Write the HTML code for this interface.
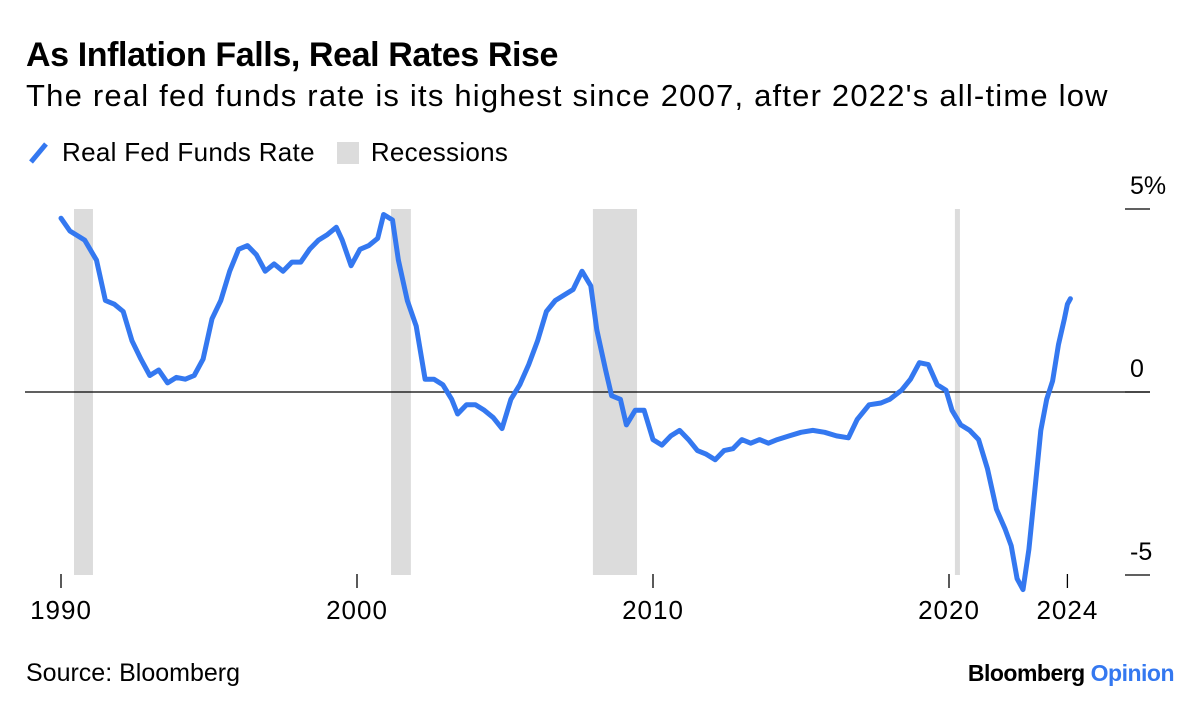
<!DOCTYPE html>
<html><head><meta charset="utf-8">
<style>
body{margin:0;background:#fff;width:1200px;height:713px;overflow:hidden;font-family:"Liberation Sans",sans-serif;color:#000;position:relative}
#title{position:absolute;left:26px;top:36px;font-size:34px;font-weight:bold;letter-spacing:-0.4px}
#subtitle{position:absolute;left:26px;top:78px;font-size:31px;letter-spacing:1.2px}
#legend{position:absolute;left:28px;top:137px;font-size:26px;letter-spacing:0.3px;display:flex;align-items:center}
.sw{display:inline-block;margin-right:12px}
#source{position:absolute;left:26px;top:659px;font-size:25px}
#brand{position:absolute;right:26px;top:660px;font-size:23px;font-weight:bold;letter-spacing:-0.5px}
svg{position:absolute;left:0;top:0}
</style></head><body>
<div id="title">As Inflation Falls, Real Rates Rise</div>
<div id="subtitle">The real fed funds rate is its highest since 2007, after 2022's all-time low</div>
<div id="legend">
<span style="display:flex;align-items:center"><svg class="sw" style="position:static" width="22" height="24"><line x1="3" y1="21" x2="18" y2="3" stroke="#3478f0" stroke-width="5"/></svg>Real Fed Funds Rate</span>
<span style="display:flex;align-items:center;margin-left:22px"><span class="sw" style="width:22px;height:22px;background:#dcdcdc"></span>Recessions</span>
</div>
<svg id="chart" width="1200" height="713"></svg>
<div id="source">Source: Bloomberg</div>
<div id="brand">Bloomberg <span style="color:#3478f0">Opinion</span></div>
<script>
const years=[1990.0,1990.3,1990.8,1991.2,1991.5,1991.8,1992.1,1992.4,1992.7,1993.0,1993.3,1993.6,1993.9,1994.2,1994.5,1994.8,1995.1,1995.4,1995.7,1996.0,1996.3,1996.6,1996.9,1997.2,1997.5,1997.8,1998.1,1998.4,1998.7,1999.0,1999.3,1999.5,1999.8,2000.1,2000.4,2000.7,2000.9,2001.2,2001.4,2001.7,2002.0,2002.3,2002.6,2002.9,2003.2,2003.4,2003.7,2004.0,2004.3,2004.6,2004.9,2005.2,2005.5,2005.8,2006.1,2006.4,2006.7,2007.0,2007.3,2007.6,2007.9,2008.1,2008.4,2008.6,2008.9,2009.1,2009.4,2009.7,2010.0,2010.3,2010.6,2010.9,2011.2,2011.5,2011.8,2012.1,2012.4,2012.7,2013.0,2013.3,2013.6,2013.9,2014.2,2014.6,2015.0,2015.4,2015.8,2016.2,2016.6,2016.9,2017.3,2017.7,2018.0,2018.4,2018.7,2019.0,2019.3,2019.6,2019.9,2020.1,2020.4,2020.7,2021.0,2021.3,2021.6,2021.9,2022.1,2022.3,2022.5,2022.7,2022.9,2023.1,2023.3,2023.5,2023.7,2023.9,2024.0,2024.1];
const rates=[4.75,4.4,4.15,3.6,2.5,2.4,2.2,1.4,0.9,0.45,0.6,0.25,0.4,0.35,0.45,0.9,2.0,2.5,3.3,3.9,4.0,3.75,3.3,3.5,3.3,3.55,3.55,3.9,4.15,4.3,4.5,4.15,3.45,3.9,4.0,4.2,4.85,4.7,3.6,2.5,1.8,0.35,0.35,0.2,-0.2,-0.6,-0.35,-0.35,-0.5,-0.7,-1.0,-0.2,0.2,0.75,1.4,2.2,2.5,2.65,2.8,3.3,2.9,1.7,0.6,-0.1,-0.2,-0.9,-0.5,-0.5,-1.3,-1.45,-1.2,-1.05,-1.3,-1.6,-1.7,-1.85,-1.6,-1.55,-1.3,-1.4,-1.3,-1.4,-1.3,-1.2,-1.1,-1.05,-1.1,-1.2,-1.25,-0.75,-0.35,-0.3,-0.2,0.05,0.35,0.8,0.75,0.2,0.05,-0.5,-0.9,-1.05,-1.3,-2.1,-3.2,-3.75,-4.2,-5.1,-5.4,-4.3,-2.7,-1.05,-0.2,0.3,1.3,2.0,2.4,2.55];
const recStart=[1990.44,2001.15,2007.97,2020.2];
const recEnd=[1991.08,2001.82,2009.46,2020.37];
const xTicks=[1990,2000,2010,2020,2024];
const yTicks=[5,0,-5];
const yTickLabels=["5%","0","-5"];
const X=y=>61+(y-1990)*29.6;
const Y=v=>392-v*36.6;
const svg=document.getElementById('chart');
const NS='http://www.w3.org/2000/svg';
function mk(t,a){const e=document.createElementNS(NS,t);for(const k in a)e.setAttribute(k,a[k]);svg.appendChild(e);return e;}
recStart.forEach((s,i)=>{
 const r=mk('rect',{x:X(s),y:Y(5),width:X(recEnd[i])-X(s),height:Y(-5)-Y(5),fill:'#dcdcdc'});
 
 
});
const z=mk('line',{x1:25,x2:1150,y1:Y(0),y2:Y(0),stroke:'#000','stroke-width':1.3});


yTicks.forEach((v,i)=>{
 const l=mk('line',{x1:1125,x2:1150,y1:Y(v),y2:Y(v),stroke:'#000','stroke-width':1.3});
 
 
 const t=mk('text',{x:1130,y:Y(v)-15,'font-size':25,'font-family':'Liberation Sans, sans-serif'});
 t.textContent=yTickLabels[i];
 
 
});
xTicks.forEach(v=>{
 const l=mk('line',{x1:X(v),x2:X(v),y1:574,y2:588,stroke:'#000','stroke-width':1.3});
 
 
 const t=mk('text',{x:X(v),y:619,'font-size':26,'text-anchor':'middle','letter-spacing':'1','font-family':'Liberation Sans, sans-serif'});
 t.textContent=v;
 
 
});
const p=mk('path',{d:years.map((y,i)=>(i?'L':'M')+X(y).toFixed(1)+' '+Y(rates[i]).toFixed(1)).join(''),fill:'none',stroke:'#3478f0','stroke-width':5,'stroke-linejoin':'round','stroke-linecap':'round'});


</script>
</body></html>
